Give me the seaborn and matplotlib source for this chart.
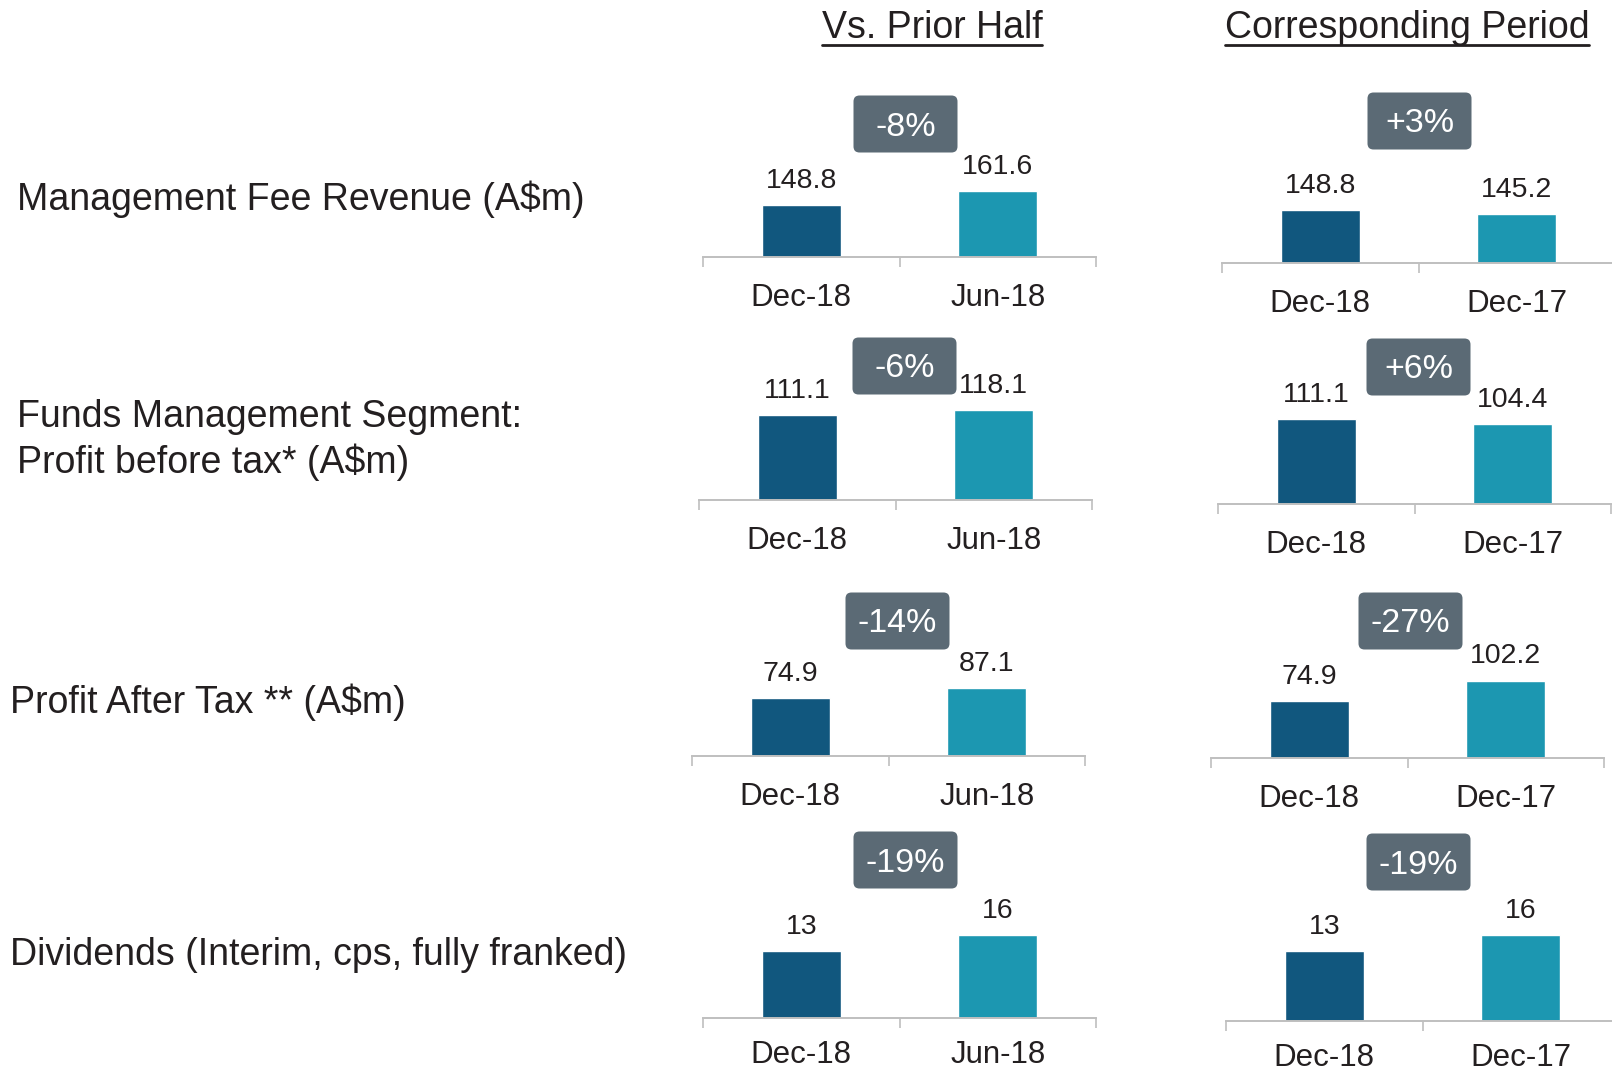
import matplotlib
matplotlib.use("Agg")
import matplotlib.pyplot as plt
from matplotlib.patches import FancyBboxPatch
from matplotlib.lines import Line2D
import seaborn as sns

# Données
row_titles = [
    "Management Fee Revenue (A$m)",
    "Funds Management Segment:\nProfit before tax* (A$m)",
    "Profit After Tax ** (A$m)",
    "Dividends (Interim, cps, fully franked)",
]
col_titles = ["Vs. Prior Half", "Corresponding Period"]
periods_prior = ["Dec-18", "Jun-18"]
periods_corr = ["Dec-18", "Dec-17"]

current = [148.8, 111.1, 74.9, 13]
prior_half = [161.6, 118.1, 87.1, 16]
corresponding = [145.2, 104.4, 102.2, 16]
change_prior = ["-8%", "-6%", "-14%", "-19%"]
change_corr = ["+3%", "+6%", "-27%", "-19%"]

# Style
DARK = "#11577E"
LIGHT = "#1C97B1"
BOX = "#5B6A75"
TXT = "#231F20"
AXIS = "#BFBFBF"

sns.set_style("white")
plt.rcParams["font.family"] = ["Liberation Sans", "DejaVu Sans"]

W, H = 1612, 1074
AX_H = 100
fig = plt.figure(figsize=(W / 100, H / 100), dpi=100)

# mise en page (pixels)
ax_x = [[703, 1222], [699, 1218], [692, 1211], [703, 1226]]
ax_w = 393
baseline = [[257, 263], [500, 504], [756, 758], [1018, 1021]]
ymin = [100, 0, 0, 0]
ytop = [[194, 192], [131, 131], [129, 132], [19.3, 18.6]]
box_off = [[133, 142], [134, 137], [135, 137], [158, 159]]
box_dx = [[6, 1], [9, 4], [9, 3], [6, -4]]
tick_pad = [19, 19, 19, 16]
label_pos = [(17, 199), (17, 440), (10, 702), (10, 955)]

for r in range(4):
    fig.text(label_pos[r][0] / W, 1 - label_pos[r][1] / H, row_titles[r],
             fontsize=27, color=TXT, ha="left", va="center", linespacing=1.3)

    for c in range(2):
        cats = periods_prior if c == 0 else periods_corr
        other = prior_half[r] if c == 0 else corresponding[r]
        vals = [current[r], other]
        change = change_prior[r] if c == 0 else change_corr[r]

        x0 = ax_x[r][c]
        base = baseline[r][c]
        ax = fig.add_axes([x0 / W, 1 - base / H, ax_w / W, AX_H / H])
        sns.barplot(x=cats, y=vals, hue=cats, palette=[DARK, LIGHT], width=0.4,
                    saturation=1, legend=False, ax=ax)
        ax.set_ylim(ymin[r], ytop[r][c])
        ax.set_xlim(-0.5, 1.5)
        for s in ["left", "top", "right"]:
            ax.spines[s].set_visible(False)
        ax.spines["bottom"].set_color(AXIS)
        ax.spines["bottom"].set_linewidth(1.4)
        ax.set_yticks([])
        ax.set_xlabel("")
        ax.set_ylabel("")
        ax.set_xticks([-0.5, 0.5, 1.5])
        ax.set_xticklabels([])
        ax.set_xticks([0, 1], minor=True)
        ax.set_xticklabels(cats, minor=True)
        ax.tick_params(axis="x", which="major", bottom=True, length=7, width=1.2,
                       color=AXIS, direction="out")
        ax.tick_params(axis="x", which="minor", bottom=True, length=0, pad=tick_pad[r],
                       labelsize=22.5, labelcolor=TXT)
        ax.patch.set_alpha(0)

        for cont, v in zip(ax.containers, vals):
            ax.bar_label(cont, labels=[f"{v:g}"], padding=8, fontsize=20.5, color=TXT)

        # boîte de variation
        cx = (x0 + ax_w / 2 + box_dx[r][c]) / W
        cy = 1 - (base - box_off[r][c]) / H
        bw, bh = 104 / W, 57 / H
        patch = FancyBboxPatch((cx - bw / 2, cy - bh / 2), bw, bh,
                               boxstyle=f"round,pad=0,rounding_size={6 / W}",
                               mutation_aspect=W / H, transform=fig.transFigure,
                               facecolor=BOX, edgecolor="none")
        fig.add_artist(patch)
        fig.text(cx, cy - 3 / H, change, fontsize=24.5, color="white",
                 ha="center", va="center")

# titres soulignés
titles = []
for t, xc in zip(col_titles, [932, 1407]):
    titles.append(fig.text(xc / W, 1 - 28 / H, t, fontsize=27, color=TXT,
                           ha="center", va="center"))
fig.canvas.draw()
for t in titles:
    bb = t.get_window_extent()
    fig.add_artist(Line2D([bb.x0 / W, bb.x1 / W], [1 - 45 / H, 1 - 45 / H],
                          color=TXT, linewidth=2))

fig.savefig("out.png", dpi=100)
